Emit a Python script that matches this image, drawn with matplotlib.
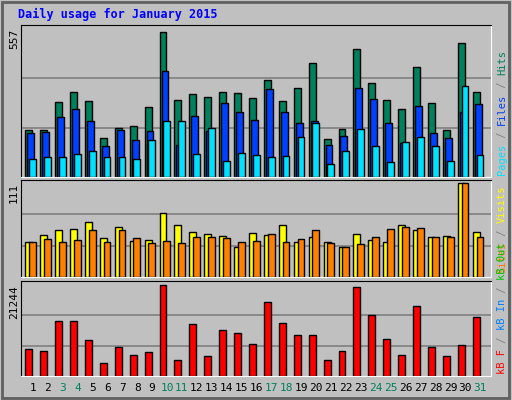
import numpy as np
import matplotlib
matplotlib.use("Agg")
from matplotlib import pyplot as plt

days = list(range(1, 32))
weekend = [3, 4, 10, 11, 17, 18, 24, 25, 31]
hits = [178, 178, 283, 320, 287, 146, 186, 191, 265, 547, 291, 313, 302, 320, 317, 298,
        365, 287, 335, 428, 142, 181, 480, 354, 291, 257, 413, 280, 176, 506, 320]
files = [165, 168, 227, 257, 209, 116, 176, 139, 172, 399, 120, 231, 172, 280, 246, 213,
         332, 246, 202, 209, 120, 153, 335, 295, 202, 127, 268, 165, 146, 246, 276]
pages = [68, 75, 75, 87, 98, 75, 75, 68, 139, 209, 209, 87, 183, 61, 90, 83,
         75, 79, 150, 205, 50, 98, 180, 116, 57, 131, 150, 116, 61, 343, 83]
visits = [41, 50, 55, 57, 65, 46, 59, 42, 44, 76, 61, 53, 51, 49, 36, 52,
          50, 61, 41, 47, 41, 36, 51, 44, 41, 61, 56, 47, 49, 111, 53]
sites = [41, 45, 41, 44, 55, 41, 55, 46, 40, 42, 40, 47, 47, 46, 41, 42,
         51, 41, 45, 55, 40, 35, 39, 47, 57, 59, 58, 47, 47, 111, 47]
kbytes = [6358, 5892, 12870, 12870, 8451, 3101, 6823, 4962, 5660, 21244, 3799, 12172,
          4729, 10777, 10079, 7521, 17289, 12405, 9614, 9614, 3799, 5892, 20778, 14266,
          8683, 4962, 16359, 6823, 4729, 7288, 13800]

W, H = 512, 400
fig = plt.figure(figsize=(W / 100, H / 100), dpi=100, facecolor="#c0c0c0")
x = np.array(days)
bw = 0.46
mono = "DejaVu Sans Mono"


def panel(top, bottom, vmax, lab_top):
    ax = fig.add_axes([21 / W, 1 - bottom / H, 470 / W, (bottom - top) / H])
    ax.set_facecolor("#c0c0c0")
    ax.set_xlim(1 - 0.79, 31 + 0.72)
    ax.set_ylim(0, vmax * (bottom - top) / (bottom - top - lab_top))
    for g in (vmax / 3, 2 * vmax / 3):
        ax.axhline(g, color="#808080", lw=1.2, zorder=0)
    ax.set_xticks([])
    ax.set_yticks([])
    for s in ax.spines.values():
        s.set_color("black")
    ax.spines["right"].set_color("white")
    ax.spines["bottom"].set_color("white")
    fig.text(14 / W, 1 - (top + lab_top) / H, str(vmax), rotation=90, ha="center",
             va="top", fontsize=8, family=mono)
    return ax


kw = dict(width=bw, align="edge", edgecolor="black", linewidth=1)
ax1 = panel(25, 177, 557, 4)
ax1.bar(x - 0.5, hits, color="#00805c", **kw)
ax1.bar(x - 0.37, files, color="#0040ff", **kw)
ax1.bar(x - 0.25, pages, color="#00e0ff", **kw)

ax2 = panel(180, 277, 111, 3)
ax2.bar(x - 0.5, visits, color="#ffff00", **kw)
ax2.bar(x - 0.25, sites, color="#ff8000", **kw)

ax3 = panel(281, 376, 21244, 4)
ax3.bar(x - 0.5, kbytes, color="#ff0000", **kw)

for d in days:
    fig.text(ax3.transData.transform((d, 0))[0] / W, 1 - 388 / H, str(d), ha="center",
             va="center", fontsize=8, family=mono,
             color="#00805c" if d in weekend else "black")

renderer = fig.canvas.get_renderer()


def side_label(bottom_px, parts):
    # parts listed bottom to top, stacked using measured text heights
    y = H - bottom_px
    for txt, col in parts:
        t = fig.text(502 / W, y / H, txt, rotation=90, ha="center", va="bottom",
                     fontsize=7.5, family=mono, color=col)
        y += t.get_window_extent(renderer).height


side_label(175, [("Pages", "#00e0ff"), (" / ", "#808080"), ("Files", "#0040ff"),
                 (" / ", "#808080"), ("Hits", "#00805c")])
side_label(273, [("Sites", "#ff8000"), (" / ", "#808080"), ("Visits", "#ffff00")])
side_label(374, [("kB F", "#ff0000"), (" / ", "#808080"), ("kB In", "#0080ff"),
                 (" / ", "#808080"), ("kB Out", "#00c000")])

fig.text(18 / W, 1 - 14 / H, "Daily usage for January 2015", fontsize=8.5, family=mono,
         weight="bold", color="#0000ff", va="center")
fig.patches.append(plt.Rectangle((0.004, 0.004), 0.99, 0.99, transform=fig.transFigure,
                                 fill=False, edgecolor="#606060", lw=2))
fig.savefig("out.png", dpi=100, facecolor=fig.get_facecolor())
